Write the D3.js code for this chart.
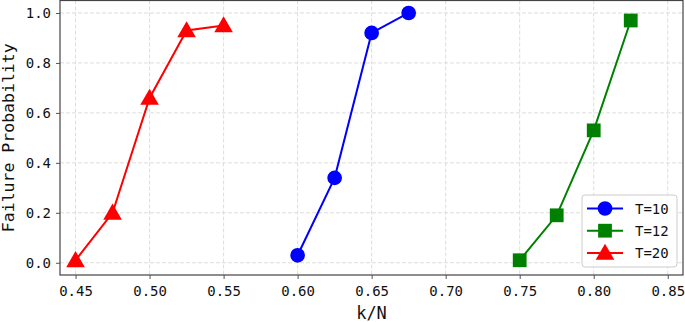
<!DOCTYPE html>
<html>
<head>
<meta charset="utf-8">
<script src="https://cdn.jsdelivr.net/npm/d3@7"></script>
<style>
    body { margin: 0; background: #fff; }
    svg text { font-family: "DejaVu Sans Mono", monospace; fill: #111; }
</style>
</head>
<body>
<div class="chart"></div>
<script>
"use strict";

// data
var seriesNames = ["T=10", "T=12", "T=20"];
var kn10 = [0.600, 0.625, 0.650, 0.675];
var fail10 = [0.03, 0.34, 0.92, 1.00];
var kn12 = [0.750, 0.775, 0.800, 0.825];
var fail12 = [0.01, 0.19, 0.53, 0.97];
var kn20 = [0.450, 0.475, 0.500, 0.525, 0.550];
var fail20 = [0.01, 0.20, 0.66, 0.93, 0.95];
var xTicks = [0.45, 0.50, 0.55, 0.60, 0.65, 0.70, 0.75, 0.80, 0.85];
var yTicks = [0.0, 0.2, 0.4, 0.6, 0.8, 1.0];

var colors = ["#0000ff", "#008000", "#ff0000"];
var shapes = [d3.symbolCircle, d3.symbolSquare, d3.symbolTriangle];

var series = [
    { name: seriesNames[0], x: kn10, y: fail10 },
    { name: seriesNames[1], x: kn12, y: fail12 },
    { name: seriesNames[2], x: kn20, y: fail20 }
];

var svgWidth = 685, svgHeight = 322;
var margin = { top: 0.5, left: 60, bottom: 47, right: 2 };
var w = svgWidth - margin.left - margin.right;
var h = svgHeight - margin.top - margin.bottom;

var svg = d3.select(".chart").append("svg")
    .attr("width", svgWidth)
    .attr("height", svgHeight);

var g = svg.append("g")
    .attr("transform", "translate(" + margin.left + "," + margin.top + ")");

var x = d3.scaleLinear().domain([0.4395, 0.8603]).range([0, w]);
var y = d3.scaleLinear().domain([-0.049, 1.05]).range([h, 0]);

// grid
g.append("g").selectAll("line").data(xTicks).enter().append("line")
    .attr("x1", function(d) { return x(d); })
    .attr("x2", function(d) { return x(d); })
    .attr("y1", 0).attr("y2", h)
    .attr("stroke", "#dddddd").attr("stroke-width", 1)
    .attr("stroke-dasharray", "4,2");

g.append("g").selectAll("line").data(yTicks).enter().append("line")
    .attr("y1", function(d) { return y(d); })
    .attr("y2", function(d) { return y(d); })
    .attr("x1", 0).attr("x2", w)
    .attr("stroke", "#dddddd").attr("stroke-width", 1)
    .attr("stroke-dasharray", "4,2");

// lines + markers
var line = d3.line()
    .x(function(d) { return x(d[0]); })
    .y(function(d) { return y(d[1]); });

series.forEach(function(s, i)
{
    var pts = s.x.map(function(v, j) { return [v, s.y[j]]; });
    g.append("path")
        .datum(pts)
        .attr("d", line)
        .attr("fill", "none")
        .attr("stroke", colors[i])
        .attr("stroke-width", 2);

    var size = i == 0 ? 170 : (i == 1 ? 190 : 150);
    g.selectAll(".m" + i).data(pts).enter().append("path")
        .attr("class", "m" + i)
        .attr("transform", function(d) { return "translate(" + x(d[0]) + "," + (y(d[1]) + (i == 2 ? 1.5 : 0)) + ")"; })
        .attr("d", d3.symbol().type(shapes[i]).size(size))
        .attr("fill", colors[i]);
});

// axes
var xAxis = d3.axisBottom(x).tickValues(xTicks).tickFormat(d3.format(".2f")).tickSize(4).tickPadding(4);
var yAxis = d3.axisLeft(y).tickValues(yTicks).tickFormat(d3.format(".1f")).tickSize(4).tickPadding(5);

var xg = g.append("g").attr("transform", "translate(0," + h + ")").call(xAxis);
var yg = g.append("g").call(yAxis);
[xg, yg].forEach(function(a)
{
    a.select(".domain").remove();
    a.selectAll(".tick line").attr("stroke", "#555");
    a.selectAll("text").attr("font-size", "14px").attr("fill", "#111");
});
xg.selectAll("text").attr("dy", "0.95em");

// frame
g.append("rect")
    .attr("x", 0).attr("y", 0).attr("width", w).attr("height", h)
    .attr("fill", "none").attr("stroke", "#444").attr("stroke-width", 1.2);

// axis labels
svg.append("text")
    .attr("x", margin.left + w / 2)
    .attr("y", 319)
    .attr("text-anchor", "middle")
    .attr("font-size", "17px")
    .text("k/N");

svg.append("text")
    .attr("transform", "translate(14," + (margin.top + h / 2) + ") rotate(-90)")
    .attr("text-anchor", "middle")
    .attr("font-size", "16.5px")
    .text("Failure Probability");

// legend
var legend = svg.append("g").attr("transform", "translate(582,195)");
legend.append("rect")
    .attr("width", 95).attr("height", 72).attr("rx", 3)
    .attr("fill", "#fff").attr("fill-opacity", 0.85)
    .attr("stroke", "#cccccc");

series.forEach(function(s, i)
{
    var ly = 13.5 + i * 22.2;
    legend.append("line")
        .attr("x1", 5).attr("x2", 41).attr("y1", ly).attr("y2", ly)
        .attr("stroke", colors[i]).attr("stroke-width", 2);
    legend.append("path")
        .attr("transform", "translate(23," + (ly + (i == 2 ? 1.5 : 0)) + ")")
        .attr("d", d3.symbol().type(shapes[i]).size(i == 0 ? 170 : (i == 1 ? 190 : 150)))
        .attr("fill", colors[i]);
    legend.append("text")
        .attr("x", 53).attr("y", ly)
        .attr("dy", "0.36em")
        .attr("font-size", "14px")
        .text(s.name);
});
</script>
</body>
</html>
